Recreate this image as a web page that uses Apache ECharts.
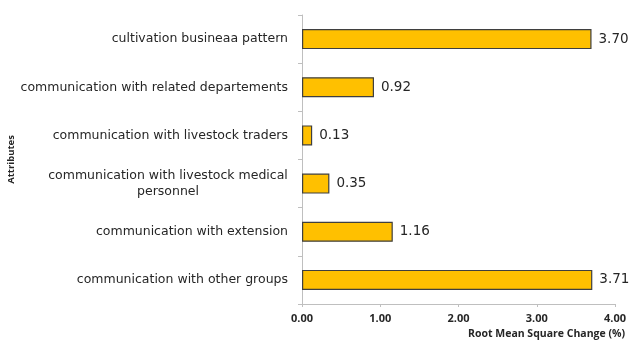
<!DOCTYPE html>
<html>
<head>
<meta charset="utf-8">
<script src="https://cdn.jsdelivr.net/npm/echarts@6/dist/echarts.min.js"></script>
<style>
  html, body { margin: 0; padding: 0; background: #ffffff; }
  #chart { width: 631px; height: 342px; }
</style>
</head>
<body>
<div id="chart"></div>
<script>
// Attributes, listed top to bottom
var categories = [
  'cultivation busineaa pattern',
  'communication with related departements',
  'communication with livestock traders',
  'communication with livestock medical\npersonnel',
  'communication with extension',
  'communication with other groups'
];
// Root mean square change (%) per attribute
var rmsChange = [3.70, 0.92, 0.13, 0.35, 1.16, 3.71];
// Value axis ticks
var xTicks = [0, 1, 2, 3, 4];

var labelFont = 'DejaVu Sans';
var labelSize = 12.5;
var boldFont = 'Open Sans';

// width of the widest line of a wrapped label, so the lines centre under each other
function blockWidth(text) {
  var ctx = document.createElement('canvas').getContext('2d');
  ctx.font = labelSize + 'px "' + labelFont + '"';
  return Math.max.apply(null, text.split('\n').map(function (s) {
    return Math.ceil(ctx.measureText(s).width);
  }));
}
var wrappedWidth = 0;
categories.forEach(function (c) {
  if (c.indexOf('\n') >= 0) wrappedWidth = Math.max(wrappedWidth, blockWidth(c));
});

var chart = echarts.init(document.getElementById('chart'), null, { renderer: 'canvas' });

chart.setOption({
  animation: false,
  backgroundColor: '#ffffff',
  grid: { left: 302, right: 16, top: 15, bottom: 38, containLabel: false },
  xAxis: {
    type: 'value',
    min: xTicks[0],
    max: xTicks[xTicks.length - 1],
    interval: 1,
    splitLine: { show: false },
    axisLine: { show: true, lineStyle: { color: '#bfbfbf', width: 1 } },
    axisTick: { show: true, length: 3, lineStyle: { color: '#bfbfbf' } },
    axisLabel: {
      margin: 9,
      color: '#262626',
      fontFamily: boldFont,
      fontWeight: 'bold',
      fontSize: 11,
      formatter: function (v) { return v.toFixed(2); }
    }
  },
  yAxis: {
    type: 'category',
    data: categories,
    inverse: true,
    name: 'Attributes',
    nameLocation: 'middle',
    nameRotate: 90,
    nameGap: 284,
    nameTextStyle: {
      color: '#262626',
      fontFamily: boldFont,
      fontWeight: 'bold',
      fontSize: 9.5
    },
    axisLine: { show: true, lineStyle: { color: '#bfbfbf', width: 1 } },
    axisTick: { show: true, length: 4, lineStyle: { color: '#bfbfbf' } },
    axisLabel: {
      margin: 14,
      color: '#262626',
      fontFamily: labelFont,
      fontSize: labelSize,
      lineHeight: 16,
      formatter: function (v) {
        if (v.indexOf('\n') >= 0) {
          return v.split('\n').map(function (s) { return '{c|' + s + '}'; }).join('\n');
        }
        return v;
      },
      rich: {
        c: {
          width: wrappedWidth,
          align: 'center',
          fontFamily: labelFont,
          fontSize: labelSize,
          lineHeight: 16,
          color: '#262626'
        }
      }
    }
  },
  graphic: [
    {
      type: 'text',
      right: 6,
      top: 329,
      style: {
        text: 'Root Mean Square Change (%)',
        fill: '#262626',
        font: 'bold 10.5px "Open Sans"'
      }
    }
  ],
  series: [
    {
      type: 'bar',
      data: rmsChange,
      barWidth: 20,
      itemStyle: {
        color: '#FFC000',
        borderColor: '#3f3f3f',
        borderWidth: 1.2
      },
      label: {
        show: true,
        position: 'right',
        distance: 7,
        color: '#262626',
        fontFamily: labelFont,
        fontSize: 13.5,
        formatter: function (p) { return p.value.toFixed(2); }
      }
    }
  ]
});
</script>
</body>
</html>
